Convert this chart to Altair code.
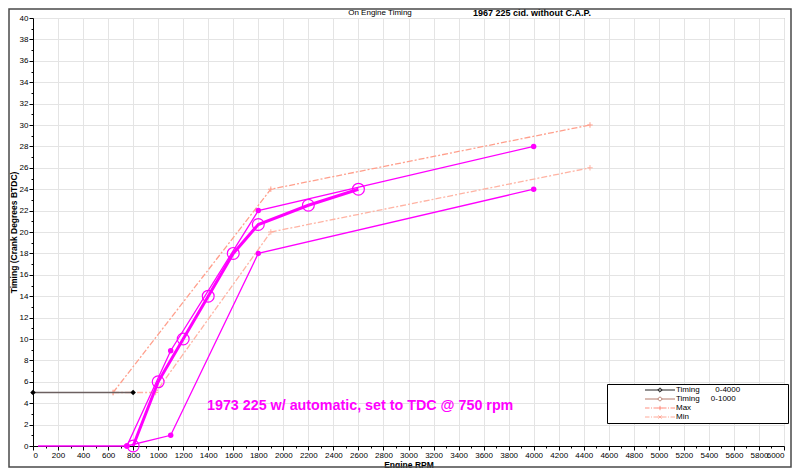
import altair as alt
import pandas as pd

# ---------------- data ----------------
base_rpm = [0, 800]
base_deg = [5, 5]

max_rpm = [640, 1900, 4450]
max_deg = [5, 24, 30]

min_rpm = [640, 980, 1900, 4450]
min_deg = [5, 5, 20, 26]

meas_rpm = [800, 1000, 1200, 1400, 1600, 1800, 2200, 2600]
meas_deg = [0, 6, 10, 14, 18, 20.7, 22.5, 24]

upper_rpm = [750, 1100, 1800, 4000]
upper_deg = [0, 8.9, 22, 28]

lower_rpm = [40, 750, 1100, 1800, 4000]
lower_deg = [0, 0, 1, 18, 24]

NB = "\u00a0"
PAD = "\u2800"
legend_names = ["Timing" + NB * 7 + "0-4000" + NB * 4 + PAD * 6,
                "Timing" + NB * 5 + "0-1000",
                "Max", "Min"]
x_ticks = list(range(0, 6001, 200))
y_ticks = list(range(0, 41, 2))

title_left = "On Engine Timing"
title_right = "1967 225 cid. without C.A.P."
note = "1973 225 w/ automatic, set to TDC @ 750 rpm"
note_rpm = 1390
note_deg = 3.7

# ---------------- styling ----------------
FONT = "Liberation Sans"
MAGENTA = "#ff00ff"
MAXC = "#ff9f8c"
MINC = "#ffb3a3"


def frame(r, d):
    return pd.DataFrame({"rpm": r, "deg": d})


xs = alt.Scale(domain=[0, 6000], nice=False, zero=False)
ys = alt.Scale(domain=[0, 40], nice=False, zero=False)

x_main = alt.Axis(values=x_ticks, format="d", title="Engine RPM", grid=True,
                  gridColor="#e4e4e4", tickSize=4, tickColor="#000", domainColor="#000",
                  labelFont=FONT, labelFontSize=8, labelColor="#000", labelPadding=1,
                  labelFlush=True, labelOverlap=False, titleFont=FONT, titleFontSize=8.5,
                  titleFontWeight="bold", titlePadding=1, titleColor="#000")
y_main = alt.Axis(values=y_ticks, format="d", title="Timing (Crank Degrees BTDC)", grid=True,
                  gridColor="#e4e4e4", tickSize=4, tickColor="#000", domainColor="#000",
                  labelFont=FONT, labelFontSize=8, labelColor="#000", labelPadding=1,
                  labelFlush=False, labelOverlap=False, titleFont=FONT, titleFontSize=8.5,
                  titleFontWeight="bold", titlePadding=1, titleColor="#000")
x_minor = alt.Axis(values=list(range(100, 6000, 200)), orient="bottom", grid=False,
                   labels=False, domain=False, tickSize=2, tickColor="#000", title=None)
y_minor = alt.Axis(values=list(range(1, 40, 2)), orient="left", grid=False,
                   labels=False, domain=False, tickSize=2, tickColor="#000", title=None)


def enc(chart, xa=None, ya=None):
    return chart.encode(
        x=alt.X("rpm:Q", scale=xs, axis=xa),
        y=alt.Y("deg:Q", scale=ys, axis=ya),
    )


layers = []

# Max / Min dash-dot lines
layers.append(enc(alt.Chart(frame(max_rpm, max_deg)).mark_line(
    color=MAXC, strokeWidth=1.3, strokeDash=[6, 2, 2, 2]), x_main, y_main))
layers.append(enc(alt.Chart(frame(min_rpm, min_deg)).mark_line(
    color=MINC, strokeWidth=1.3, strokeDash=[6, 2, 2, 2]), x_minor, y_minor))
plus_path = "M0,-1V1M-1,0H1"
layers.append(enc(alt.Chart(frame(max_rpm, max_deg)).mark_point(
    shape=plus_path, size=30, color=MAXC, strokeWidth=1, opacity=1)))
layers.append(enc(alt.Chart(frame(min_rpm, min_deg)).mark_point(
    shape=plus_path, size=30, color=MINC, strokeWidth=1, opacity=1)))

# base timing line
layers.append(enc(alt.Chart(frame(base_rpm, base_deg)).mark_line(
    color="#6c6060", strokeWidth=1.6)))
layers.append(enc(alt.Chart(frame(base_rpm, base_deg)).mark_point(
    shape="diamond", filled=True, size=30, color="#000", opacity=1)))

# hand-drawn magenta overlay
for r, d in ((upper_rpm, upper_deg), (lower_rpm, lower_deg)):
    layers.append(enc(alt.Chart(frame(r, d)).mark_line(color=MAGENTA, strokeWidth=1.3)))
    layers.append(enc(alt.Chart(frame(r[-4:], d[-4:])).mark_point(
        filled=True, size=30, color=MAGENTA, opacity=1)))
layers.append(enc(alt.Chart(frame(meas_rpm, meas_deg)).mark_line(
    color=MAGENTA, strokeWidth=3)))
layers.append(enc(alt.Chart(frame(meas_rpm, meas_deg)).mark_point(
    shape="circle", filled=False, size=140, color=MAGENTA, strokeWidth=1.2, opacity=1)))

# legend (hidden points, legend only)
S = 3.5  # symbol scale: sqrt(size)/2


def u(v):
    return f"{v / S:.3f}"


half = 15
dash = ""
for a, b in ((-15, -10.5), (-9, -8), (-6.5, -2), (-0.6, 0.6), (2, 6.5), (8, 9), (10.5, 15)):
    dash += f"M{u(a)},0H{u(b)}"
m = 2.2
paths = [
    f"M{u(-half)},0H{u(half)}M0,{u(-m)}L{u(m)},0L0,{u(m)}L{u(-m)},0Z",
    f"M{u(-half)},0H{u(-1.8)}M{u(1.8)},0H{u(half)}M{u(-1.8)},0A{u(1.8)},{u(1.8)} 0 1,1 {u(1.8)},0A{u(1.8)},{u(1.8)} 0 1,1 {u(-1.8)},0",
    dash + f"M0,{u(-m)}V{u(m)}M{u(-m)},0H{u(m)}",
    dash + f"M{u(-1.6)},{u(-1.6)}L{u(1.6)},{u(1.6)}M{u(-1.6)},{u(1.6)}L{u(1.6)},{u(-1.6)}M{u(-m)},0H{u(m)}",
]
legend_df = pd.DataFrame({"rpm": [-1000] * 4, "deg": [-10] * 4, "series": legend_names})
leg = alt.Legend(title=None, orient="none", legendX=574, legendY=366, direction="vertical",
                 strokeColor="#000", fillColor="#fff", padding=2, symbolOffset=47,
                 labelOffset=12, symbolSize=49, symbolStrokeWidth=1, labelFont=FONT,
                 labelFontSize=8, labelColor="#000", rowPadding=0, cornerRadius=0,
                 labelLimit=400)
layers.append(alt.Chart(legend_df).mark_point(filled=False, size=49, opacity=1, clip=True).encode(
    x=alt.X("rpm:Q", scale=xs, axis=None),
    y=alt.Y("deg:Q", scale=ys, axis=None),
    color=alt.Color("series:N", scale=alt.Scale(domain=legend_names,
                    range=["#222222", "#b47a6a", "#ff8f80", "#ffaa99"]), legend=leg),
    shape=alt.Shape("series:N", scale=alt.Scale(domain=legend_names, range=paths), legend=leg),
))

one = alt.Data(values=[{}])
# titles
layers.append(alt.Chart(one).mark_text(text=title_left, font=FONT, fontSize=8, color="#000",
                                       align="center", baseline="middle").encode(
    x=alt.value(347), y=alt.value(-5)))
layers.append(alt.Chart(one).mark_text(text=title_right, font=FONT, fontSize=9,
                                       fontWeight="bold", color="#000",
                                       align="center", baseline="middle").encode(
    x=alt.value(499), y=alt.value(-5)))
# annotation
layers.append(alt.Chart(pd.DataFrame({"rpm": [note_rpm], "deg": [note_deg]})).mark_text(
    text=note, font=FONT, fontSize=14.3, fontWeight="bold", color=MAGENTA,
    align="left", baseline="middle").encode(
    x=alt.X("rpm:Q", scale=xs, axis=None), y=alt.Y("deg:Q", scale=ys, axis=None)))
# outer frame
layers.append(alt.Chart(one).mark_rect(fillOpacity=0, stroke="#4a4a4a", strokeWidth=1.5).encode(
    x=alt.value(-24), x2=alt.value(758), y=alt.value(-9), y2=alt.value(449)))

chart = alt.layer(*layers).resolve_axis(x="independent", y="independent").properties(
    width=751, height=428,
    autosize=alt.AutoSizeParams(type="none"),
    padding={"left": 25, "top": 10, "right": 8, "bottom": 22},
    background="#ffffff",
).configure_view(stroke="#a0a0a0", strokeWidth=1)

chart.save("out.html", embed_options={"renderer": "svg", "actions": False})
